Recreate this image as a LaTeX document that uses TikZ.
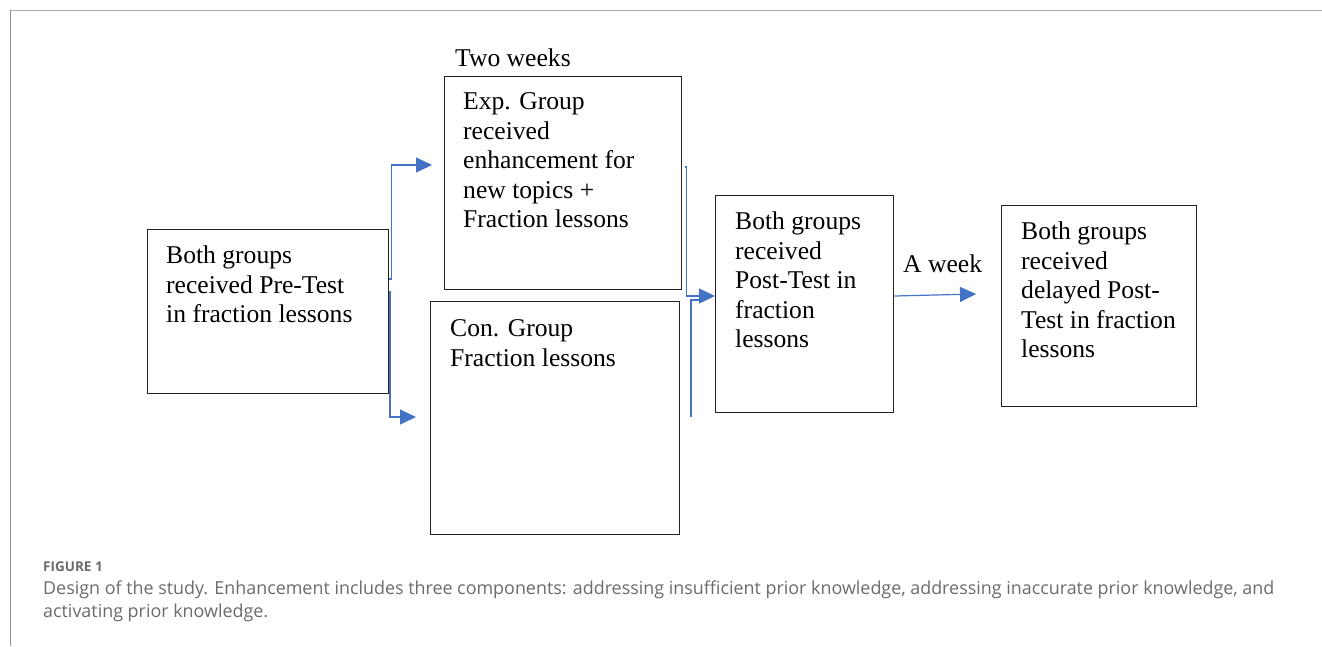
\documentclass[tikz,border=0pt]{standalone}
\usepackage{fontspec}
\setmainfont{Liberation Serif}
\newfontfamily\capfont{Open Sans}
\usetikzlibrary{arrows.meta}
\definecolor{arrowblue}{HTML}{4472C4}
\definecolor{boxline}{HTML}{222222}
\definecolor{capgray}{HTML}{6B6B6B}
\definecolor{framegray}{HTML}{AAAAAA}
\begin{document}
\begin{tikzpicture}[x=1pt,y=-1pt,
  stepbox/.style={draw=boxline,line width=1.4pt,inner sep=0pt,anchor=north west},
  boxtext/.style={anchor=base west,inner sep=0pt,align=left,font=\fontsize{25.6}{29.4}\selectfont},
  conn/.style={draw=arrowblue,line width=1.2pt},
  arr/.style={conn,-{Triangle[length=16pt,width=15pt]}},
  captext/.style={anchor=base west,inner sep=0pt,align=left,text=capgray}
]
\useasboundingbox (0,0) rectangle (1322,646);
% frame
\draw[framegray,line width=1.6pt] (10,10.5) -- (1322,10.5);
\draw[framegray!85!black,line width=1pt] (10.5,10) -- (10.5,646);

% boxes
\node[stepbox,minimum width=241pt,minimum height=164pt] (A) at (147,229) {};
\node[stepbox,minimum width=237pt,minimum height=213pt] (B) at (444,76) {};
\node[stepbox,minimum width=249pt,minimum height=233pt] (C) at (430,301) {};
\node[stepbox,minimum width=178pt,minimum height=217pt] (D) at (715,195) {};
\node[stepbox,minimum width=195pt,minimum height=201pt] (E) at (1001,205) {};

% texts (anchor = baseline of last line)
\node[boxtext] (At) at (166,322.5) {Both groups\\received Pre-Test\\in fraction lessons};
\node[boxtext] (Bt) at (463,227.5) {Exp. Group\\received\\enhancement for\\new topics +\\Fraction lessons};
\node[boxtext] (Ct) at (450,366) {Con. Group\\Fraction lessons};
\node[boxtext] (Dt) at (735,347.5) {Both groups\\received\\Post-Test in\\fraction\\lessons};
\node[boxtext] (Et) at (1021,357.5) {Both groups\\received\\delayed Post-\\Test in fraction\\lessons};
\node[boxtext] (tw) at (455,66.5) {Two weeks};
\node[boxtext] (aw) at (903,272.5) {A week};

% connectors
\coordinate (a1) at (A.east |- 0,279);
\coordinate (a2) at (390,291);
\coordinate (t1) at (432,165);
\coordinate (t2) at (416,417);
\draw[arr] (a1) -- (391.5,279) -- (391.5,165) -- (t1);
\draw[arr] (a2) -- (390,417) -- (t2);

\coordinate (b1) at (684.5,167);
\coordinate (c1) at (691,416.5);
\coordinate (d1) at (D.west |- 0,296);
\draw[arr] (b1) -- (686.5,167) -- (686.5,296) -- (d1);
\draw[conn] (c1) -- (691,300) -- (701,300);

\coordinate (e1) at (976,294);
\draw[arr] (D.east |- 0,296) -- (e1);

% caption
\node[captext,font=\capfont\bfseries\fontsize{13.5}{15}\selectfont] (fig) at (43,571) {FIGURE 1};
\node[captext,font=\capfont\fontsize{17.9}{23}\selectfont] (cap) at (43,617) {Design of the study. Enhancement includes three components: addressing insufficient prior knowledge, addressing inaccurate prior knowledge, and\\activating prior knowledge.};
\end{tikzpicture}
\end{document}
